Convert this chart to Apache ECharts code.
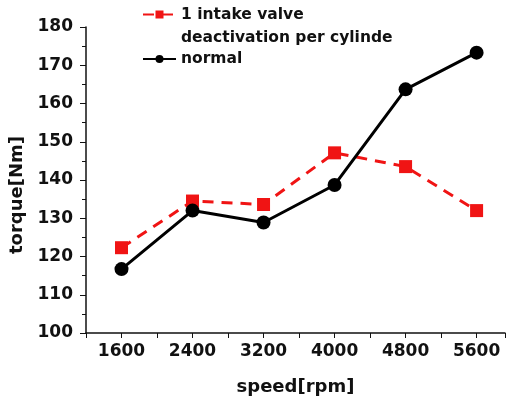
<!DOCTYPE html>
<html><head><meta charset="utf-8">
<script src="https://cdn.jsdelivr.net/npm/echarts@6/dist/echarts.min.js"></script>
<style>html,body{margin:0;padding:0;background:#fff}#c{width:508px;height:403px}</style>
</head><body><div id="c"></div>
<script>
const speeds = [1600, 2400, 3200, 4000, 4800, 5600];
const deactivation = [122.3, 134.5, 133.6, 147.1, 143.5, 132.0];
const normal = [116.7, 132.0, 128.9, 138.7, 163.7, 173.3];
const nameDeact = '1 intake valve\ndeactivation per cylinde';
const nameNormal = 'normal';

const font = 'DejaVu Sans';
const chart = echarts.init(document.getElementById('c'));
chart.setOption({
  animation: false,
  backgroundColor: '#fff',
  grid: {left: 86, top: 27, bottom: 70, right: 0},
  legend: [{
    data: [nameDeact], left: 142, top: -20, orient: 'vertical', padding: 0,
    itemWidth: 33, itemHeight: 10,
    formatter: n => ' \n' + n,
    textStyle: {fontFamily: font, fontWeight: 'bold', fontSize: 15.5, color: '#111', lineHeight: 23}
  }, {
    data: [nameNormal], left: 142, top: 51, orient: 'vertical', padding: 0,
    itemWidth: 33, itemHeight: 10,
    textStyle: {fontFamily: font, fontWeight: 'bold', fontSize: 15.5, color: '#111'}
  }],
  xAxis: {
    type: 'value', min: 1200, max: 5920, interval: 400,
    name: 'speed[rpm]', nameLocation: 'middle', nameGap: 45,
    nameTextStyle: {fontFamily: font, fontWeight: 'bold', fontSize: 18, color: '#111'},
    axisLine: {lineStyle: {color: '#111', width: 1.5}},
    axisTick: {show: true, length: 5, lineStyle: {color: '#111'}},
    splitLine: {show: false},
    axisLabel: {
      fontFamily: font, fontWeight: 'bold', fontSize: 17, color: '#111', margin: 10,
      formatter: v => (v % 800 === 0 && speeds.indexOf(v) >= 0) ? String(v) : ''
    }
  },
  yAxis: {
    type: 'value', min: 100, max: 180, interval: 10,
    name: 'torque[Nm]', nameLocation: 'middle', nameGap: 50,
    nameTextStyle: {fontFamily: font, fontWeight: 'bold', fontSize: 18, color: '#111', padding: [0, 30, 0, 0]},
    axisLine: {show: true, lineStyle: {color: '#111', width: 1.5}},
    axisTick: {show: true, length: 6, lineStyle: {color: '#111'}},
    minorTick: {show: true, splitNumber: 2, length: 4, lineStyle: {color: '#111'}},
    splitLine: {show: false},
    axisLabel: {fontFamily: font, fontWeight: 'bold', fontSize: 17, color: '#111', margin: 13}
  },
  series: [{
    name: nameDeact, type: 'line',
    data: speeds.map((s, i) => [s, deactivation[i]]),
    symbol: 'rect', symbolSize: 13,
    lineStyle: {color: '#f01414', width: 3, type: [11, 8]},
    itemStyle: {color: '#f01414'}
  }, {
    name: nameNormal, type: 'line',
    data: speeds.map((s, i) => [s, normal[i]]),
    symbol: 'circle', symbolSize: 14,
    lineStyle: {color: '#000', width: 3},
    itemStyle: {color: '#000'}
  }]
});
</script></body></html>
